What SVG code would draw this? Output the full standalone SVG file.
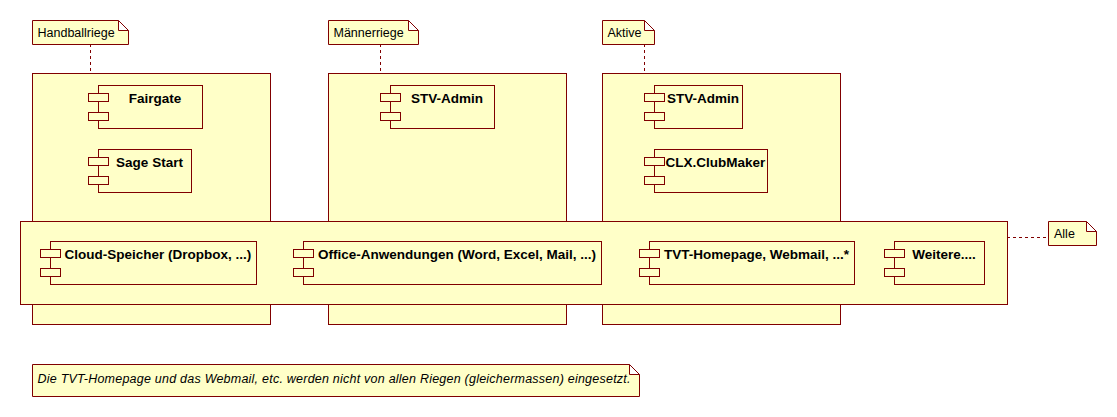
<svg xmlns="http://www.w3.org/2000/svg" width="1117" height="417" viewBox="0 0 1117 417">
<style>
.box{fill:#FFFFC8;stroke:#800000;stroke-width:1}
.tab{fill:#FFFFC8;stroke:#800000;stroke-width:1}
.lbl{font-family:"Liberation Sans",Arial,sans-serif;font-size:13.5px;font-weight:bold;fill:#000;text-anchor:middle}
.nt{font-family:"Liberation Sans",Arial,sans-serif;font-size:12.5px;fill:#000}
.it{font-family:"Liberation Sans",Arial,sans-serif;font-size:12.5px;font-style:italic;fill:#000}
.dash{stroke:#800000;stroke-width:1;stroke-dasharray:3,3;fill:none}
</style>
<defs>
<g id="tabs">
<rect class="tab" x="0" y="8" width="20" height="8"/>
<rect class="tab" x="0" y="27" width="20" height="8"/>
</g>
</defs>
<rect width="1117" height="417" fill="#fff"/>

<g id="connectors">
<line class="dash" x1="90.5" y1="44" x2="90.5" y2="73"/>
<line class="dash" x1="380.5" y1="44" x2="380.5" y2="73"/>
<line class="dash" x1="644.5" y1="44" x2="644.5" y2="73"/>
<line class="dash" x1="1007" y1="237.5" x2="1048" y2="237.5"/>
</g>

<g id="handballriege">
<rect class="box" x="32.5" y="73.5" width="238" height="251"/>
<g id="fairgate">
<rect class="box" x="98.5" y="85.5" width="104" height="43"/>
<use href="#tabs" x="88.5" y="85.5"/>
<text class="lbl" x="155" y="102.5">Fairgate</text>
</g>
<g id="sagestart">
<rect class="box" x="98.5" y="149.5" width="93" height="43"/>
<use href="#tabs" x="88.5" y="149.5"/>
<text class="lbl" x="149.5" y="166.5">Sage Start</text>
</g>
</g>

<g id="maennerriege">
<rect class="box" x="328.5" y="73.5" width="238" height="251"/>
<g id="stvadmin1">
<rect class="box" x="390.5" y="85.5" width="104" height="43"/>
<use href="#tabs" x="380.5" y="85.5"/>
<text class="lbl" x="447" y="102.5">STV-Admin</text>
</g>
</g>

<g id="aktive">
<rect class="box" x="602.5" y="73.5" width="238" height="251"/>
<g id="stvadmin2">
<rect class="box" x="654.5" y="85.5" width="88" height="43"/>
<use href="#tabs" x="644.5" y="85.5"/>
<text class="lbl" x="703" y="102.5">STV-Admin</text>
</g>
<g id="clubmaker">
<rect class="box" x="654.5" y="149.5" width="113" height="43"/>
<use href="#tabs" x="644.5" y="149.5"/>
<text class="lbl" x="715.5" y="166.5">CLX.ClubMaker</text>
</g>
</g>

<g id="alle">
<rect class="box" x="20.5" y="221.5" width="987" height="83"/>
<g id="cloud">
<rect class="box" x="50.5" y="241.5" width="206" height="43"/>
<use href="#tabs" x="40.5" y="241.5"/>
<text class="lbl" x="158" y="258.5">Cloud-Speicher (Dropbox, ...)</text>
</g>
<g id="office">
<rect class="box" x="303.5" y="241.5" width="298" height="43"/>
<use href="#tabs" x="293.5" y="241.5"/>
<text class="lbl" x="457" y="258.5">Office-Anwendungen (Word, Excel, Mail, ...)</text>
</g>
<g id="tvt">
<rect class="box" x="649.5" y="241.5" width="205" height="43"/>
<use href="#tabs" x="639.5" y="241.5"/>
<text class="lbl" x="756.5" y="258.5">TVT-Homepage, Webmail, ...*</text>
</g>
<g id="weitere">
<rect class="box" x="894.5" y="241.5" width="90" height="43"/>
<use href="#tabs" x="884.5" y="241.5"/>
<text class="lbl" x="944" y="258.5">Weitere....</text>
</g>
</g>

<g id="note-handballriege">
<path class="box" d="M32.5,20.5 H118.5 L128.5,30.5 V44.5 H32.5 Z M118.5,20.5 V30.5 H128.5"/>
<text class="nt" x="37.5" y="37">Handballriege</text>
</g>
<g id="note-maennerriege">
<path class="box" d="M328.5,20.5 H408.5 L418.5,30.5 V44.5 H328.5 Z M408.5,20.5 V30.5 H418.5"/>
<text class="nt" x="333.5" y="37">Männerriege</text>
</g>
<g id="note-aktive">
<path class="box" d="M602.5,20.5 H644.5 L654.5,30.5 V44.5 H602.5 Z M644.5,20.5 V30.5 H654.5"/>
<text class="nt" x="607.5" y="37">Aktive</text>
</g>
<g id="note-alle">
<path class="box" d="M1048.5,221.5 H1086.5 L1096.5,231.5 V245.5 H1048.5 Z M1086.5,221.5 V231.5 H1096.5"/>
<text class="nt" x="1054" y="238">Alle</text>
</g>
<g id="note-bottom">
<path class="box" d="M32.5,364.5 H629.5 L639.5,374.5 V396.5 H32.5 Z M629.5,364.5 V374.5 H639.5"/>
<text class="it" x="37.5" y="383" textLength="593" lengthAdjust="spacing">Die TVT-Homepage und das Webmail, etc. werden nicht von allen Riegen (gleichermassen) eingesetzt.</text>
</g>
</svg>
